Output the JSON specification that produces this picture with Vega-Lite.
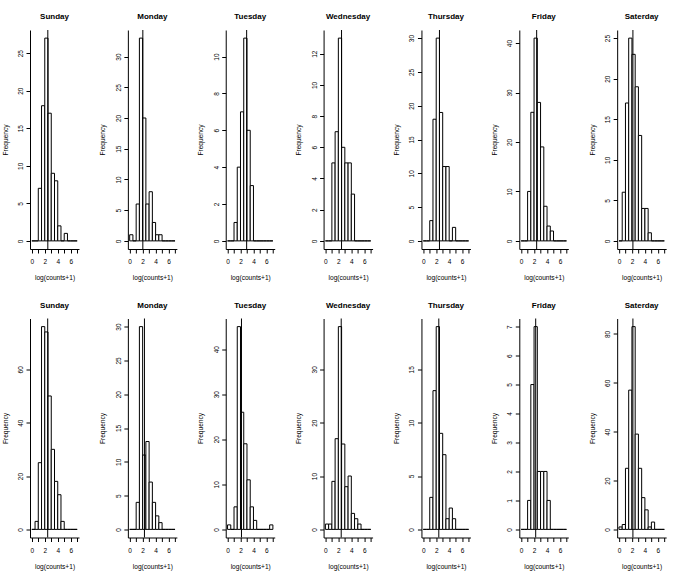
{
"$schema": "https://vega.github.io/schema/vega-lite/v6.json",
"padding": {"left": 2, "top": 13, "right": 5, "bottom": 5},
"bounds": "flush",
"columns": 7,
"spacing": {"row": 69.5, "column": 48.86},
"datasets": {
"h": [
{"p":"T1","s":0,"e":0.5,"n":0},{"p":"T1","s":0.5,"e":1,"n":0},{"p":"T1","s":1,"e":1.5,"n":7},{"p":"T1","s":1.5,"e":2,"n":18},{"p":"T1","s":2,"e":2.5,"n":27},{"p":"T1","s":2.5,"e":3,"n":17},{"p":"T1","s":3,"e":3.5,"n":9},{"p":"T1","s":3.5,"e":4,"n":8},{"p":"T1","s":4,"e":4.5,"n":2},{"p":"T1","s":4.5,"e":5,"n":0},{"p":"T1","s":5,"e":5.5,"n":1},{"p":"T1","s":5.5,"e":6,"n":0},{"p":"T1","s":6,"e":6.5,"n":0},{"p":"T1","s":6.5,"e":7,"n":0},
{"p":"T2","s":0,"e":0.5,"n":1},{"p":"T2","s":0.5,"e":1,"n":0},{"p":"T2","s":1,"e":1.5,"n":6},{"p":"T2","s":1.5,"e":2,"n":33},{"p":"T2","s":2,"e":2.5,"n":20},{"p":"T2","s":2.5,"e":3,"n":6},{"p":"T2","s":3,"e":3.5,"n":8},{"p":"T2","s":3.5,"e":4,"n":3},{"p":"T2","s":4,"e":4.5,"n":1},{"p":"T2","s":4.5,"e":5,"n":1},{"p":"T2","s":5,"e":5.5,"n":0},{"p":"T2","s":5.5,"e":6,"n":0},{"p":"T2","s":6,"e":6.5,"n":0},{"p":"T2","s":6.5,"e":7,"n":0},
{"p":"T3","s":0,"e":0.5,"n":0},{"p":"T3","s":0.5,"e":1,"n":0},{"p":"T3","s":1,"e":1.5,"n":1},{"p":"T3","s":1.5,"e":2,"n":4},{"p":"T3","s":2,"e":2.5,"n":7},{"p":"T3","s":2.5,"e":3,"n":11},{"p":"T3","s":3,"e":3.5,"n":6},{"p":"T3","s":3.5,"e":4,"n":3},{"p":"T3","s":4,"e":4.5,"n":0},{"p":"T3","s":4.5,"e":5,"n":0},{"p":"T3","s":5,"e":5.5,"n":0},{"p":"T3","s":5.5,"e":6,"n":0},{"p":"T3","s":6,"e":6.5,"n":0},{"p":"T3","s":6.5,"e":7,"n":0},
{"p":"T4","s":0,"e":0.5,"n":0},{"p":"T4","s":0.5,"e":1,"n":0},{"p":"T4","s":1,"e":1.5,"n":5},{"p":"T4","s":1.5,"e":2,"n":7},{"p":"T4","s":2,"e":2.5,"n":13},{"p":"T4","s":2.5,"e":3,"n":6},{"p":"T4","s":3,"e":3.5,"n":5},{"p":"T4","s":3.5,"e":4,"n":5},{"p":"T4","s":4,"e":4.5,"n":3},{"p":"T4","s":4.5,"e":5,"n":0},{"p":"T4","s":5,"e":5.5,"n":0},{"p":"T4","s":5.5,"e":6,"n":0},{"p":"T4","s":6,"e":6.5,"n":0},{"p":"T4","s":6.5,"e":7,"n":0},
{"p":"T5","s":0,"e":0.5,"n":0},{"p":"T5","s":0.5,"e":1,"n":0},{"p":"T5","s":1,"e":1.5,"n":3},{"p":"T5","s":1.5,"e":2,"n":18},{"p":"T5","s":2,"e":2.5,"n":30},{"p":"T5","s":2.5,"e":3,"n":19},{"p":"T5","s":3,"e":3.5,"n":11},{"p":"T5","s":3.5,"e":4,"n":11},{"p":"T5","s":4,"e":4.5,"n":0},{"p":"T5","s":4.5,"e":5,"n":2},{"p":"T5","s":5,"e":5.5,"n":0},{"p":"T5","s":5.5,"e":6,"n":0},{"p":"T5","s":6,"e":6.5,"n":0},{"p":"T5","s":6.5,"e":7,"n":0},
{"p":"T6","s":0,"e":0.5,"n":0},{"p":"T6","s":0.5,"e":1,"n":0},{"p":"T6","s":1,"e":1.5,"n":10},{"p":"T6","s":1.5,"e":2,"n":26},{"p":"T6","s":2,"e":2.5,"n":41},{"p":"T6","s":2.5,"e":3,"n":28},{"p":"T6","s":3,"e":3.5,"n":19},{"p":"T6","s":3.5,"e":4,"n":7},{"p":"T6","s":4,"e":4.5,"n":3},{"p":"T6","s":4.5,"e":5,"n":2},{"p":"T6","s":5,"e":5.5,"n":0},{"p":"T6","s":5.5,"e":6,"n":0},{"p":"T6","s":6,"e":6.5,"n":0},{"p":"T6","s":6.5,"e":7,"n":0},
{"p":"T7","s":0,"e":0.5,"n":0},{"p":"T7","s":0.5,"e":1,"n":6},{"p":"T7","s":1,"e":1.5,"n":17},{"p":"T7","s":1.5,"e":2,"n":25},{"p":"T7","s":2,"e":2.5,"n":23},{"p":"T7","s":2.5,"e":3,"n":19},{"p":"T7","s":3,"e":3.5,"n":13},{"p":"T7","s":3.5,"e":4,"n":4},{"p":"T7","s":4,"e":4.5,"n":4},{"p":"T7","s":4.5,"e":5,"n":1},{"p":"T7","s":5,"e":5.5,"n":0},{"p":"T7","s":5.5,"e":6,"n":0},{"p":"T7","s":6,"e":6.5,"n":0},{"p":"T7","s":6.5,"e":7,"n":0},
{"p":"B1","s":0,"e":0.5,"n":0},{"p":"B1","s":0.5,"e":1,"n":3},{"p":"B1","s":1,"e":1.5,"n":25},{"p":"B1","s":1.5,"e":2,"n":76},{"p":"B1","s":2,"e":2.5,"n":74},{"p":"B1","s":2.5,"e":3,"n":50},{"p":"B1","s":3,"e":3.5,"n":30},{"p":"B1","s":3.5,"e":4,"n":18},{"p":"B1","s":4,"e":4.5,"n":13},{"p":"B1","s":4.5,"e":5,"n":3},{"p":"B1","s":5,"e":5.5,"n":0},{"p":"B1","s":5.5,"e":6,"n":0},{"p":"B1","s":6,"e":6.5,"n":0},{"p":"B1","s":6.5,"e":7,"n":0},
{"p":"B2","s":0,"e":0.5,"n":0},{"p":"B2","s":0.5,"e":1,"n":0},{"p":"B2","s":1,"e":1.5,"n":4},{"p":"B2","s":1.5,"e":2,"n":30},{"p":"B2","s":2,"e":2.5,"n":11},{"p":"B2","s":2.5,"e":3,"n":13},{"p":"B2","s":3,"e":3.5,"n":7},{"p":"B2","s":3.5,"e":4,"n":4},{"p":"B2","s":4,"e":4.5,"n":2},{"p":"B2","s":4.5,"e":5,"n":1},{"p":"B2","s":5,"e":5.5,"n":0},{"p":"B2","s":5.5,"e":6,"n":0},{"p":"B2","s":6,"e":6.5,"n":0},{"p":"B2","s":6.5,"e":7,"n":0},
{"p":"B3","s":0,"e":0.5,"n":1},{"p":"B3","s":0.5,"e":1,"n":0},{"p":"B3","s":1,"e":1.5,"n":5},{"p":"B3","s":1.5,"e":2,"n":45},{"p":"B3","s":2,"e":2.5,"n":26},{"p":"B3","s":2.5,"e":3,"n":19},{"p":"B3","s":3,"e":3.5,"n":11},{"p":"B3","s":3.5,"e":4,"n":5},{"p":"B3","s":4,"e":4.5,"n":2},{"p":"B3","s":4.5,"e":5,"n":0},{"p":"B3","s":5,"e":5.5,"n":0},{"p":"B3","s":5.5,"e":6,"n":0},{"p":"B3","s":6,"e":6.5,"n":0},{"p":"B3","s":6.5,"e":7,"n":1},
{"p":"B4","s":0,"e":0.5,"n":1},{"p":"B4","s":0.5,"e":1,"n":1},{"p":"B4","s":1,"e":1.5,"n":9},{"p":"B4","s":1.5,"e":2,"n":17},{"p":"B4","s":2,"e":2.5,"n":38},{"p":"B4","s":2.5,"e":3,"n":16},{"p":"B4","s":3,"e":3.5,"n":8},{"p":"B4","s":3.5,"e":4,"n":10},{"p":"B4","s":4,"e":4.5,"n":3},{"p":"B4","s":4.5,"e":5,"n":2},{"p":"B4","s":5,"e":5.5,"n":1},{"p":"B4","s":5.5,"e":6,"n":0},{"p":"B4","s":6,"e":6.5,"n":0},{"p":"B4","s":6.5,"e":7,"n":0},
{"p":"B5","s":0,"e":0.5,"n":0},{"p":"B5","s":0.5,"e":1,"n":0},{"p":"B5","s":1,"e":1.5,"n":3},{"p":"B5","s":1.5,"e":2,"n":13},{"p":"B5","s":2,"e":2.5,"n":19},{"p":"B5","s":2.5,"e":3,"n":9},{"p":"B5","s":3,"e":3.5,"n":7},{"p":"B5","s":3.5,"e":4,"n":1},{"p":"B5","s":4,"e":4.5,"n":2},{"p":"B5","s":4.5,"e":5,"n":1},{"p":"B5","s":5,"e":5.5,"n":0},{"p":"B5","s":5.5,"e":6,"n":0},{"p":"B5","s":6,"e":6.5,"n":0},{"p":"B5","s":6.5,"e":7,"n":0},
{"p":"B6","s":0,"e":0.5,"n":0},{"p":"B6","s":0.5,"e":1,"n":0},{"p":"B6","s":1,"e":1.5,"n":1},{"p":"B6","s":1.5,"e":2,"n":5},{"p":"B6","s":2,"e":2.5,"n":7},{"p":"B6","s":2.5,"e":3,"n":2},{"p":"B6","s":3,"e":3.5,"n":2},{"p":"B6","s":3.5,"e":4,"n":2},{"p":"B6","s":4,"e":4.5,"n":1},{"p":"B6","s":4.5,"e":5,"n":0},{"p":"B6","s":5,"e":5.5,"n":0},{"p":"B6","s":5.5,"e":6,"n":0},{"p":"B6","s":6,"e":6.5,"n":0},{"p":"B6","s":6.5,"e":7,"n":0},
{"p":"B7","s":0,"e":0.5,"n":1},{"p":"B7","s":0.5,"e":1,"n":2},{"p":"B7","s":1,"e":1.5,"n":25},{"p":"B7","s":1.5,"e":2,"n":57},{"p":"B7","s":2,"e":2.5,"n":83},{"p":"B7","s":2.5,"e":3,"n":39},{"p":"B7","s":3,"e":3.5,"n":25},{"p":"B7","s":3.5,"e":4,"n":13},{"p":"B7","s":4,"e":4.5,"n":8},{"p":"B7","s":4.5,"e":5,"n":1},{"p":"B7","s":5,"e":5.5,"n":3},{"p":"B7","s":5.5,"e":6,"n":0},{"p":"B7","s":6,"e":6.5,"n":0},{"p":"B7","s":6.5,"e":7,"n":0}
],
"m": [
{"p":"T1","m":2.47},{"p":"T2","m":2.03},{"p":"T3","m":2.95},{"p":"T4","m":2.49},{"p":"T5","m":2.5},{"p":"T6","m":2.4},{"p":"T7","m":2.15},
{"p":"B1","m":2.45},{"p":"B2","m":2.28},{"p":"B3","m":2.15},{"p":"B4","m":2.44},{"p":"B5","m":2.4},{"p":"B6","m":2.25},{"p":"B7","m":2.15}
]
},
"concat": [
{"title": "Sunday", "width": 49, "height": 219, "layer": [
 {"data": {"name": "h"}, "transform": [{"filter": "datum.p == 'T1'"}], "mark": {"type": "rect", "fill": "white", "stroke": "black", "strokeWidth": 1},
  "encoding": {"x": {"field": "s", "type": "quantitative", "title": "log(counts+1)", "scale": {"domain": [-0.28, 7.28], "nice": false, "zero": false}, "axis": {"values": [0,1,2,3,4,5,6,7], "tickCount": 20, "format": "d", "labelExpr": "datum.value % 2 == 0 ? datum.label : ''"}}, "x2": {"field": "e"},
   "y": {"field": "n", "type": "quantitative", "title": "Frequency", "scale": {"domain": [-1.08, 28.08], "nice": false, "zero": false}, "axis": {"values": [0,5,10,15,20,25], "tickCount": 20, "format": "d"}}, "y2": {"datum": 0}}},
 {"data": {"name": "m"}, "transform": [{"filter": "datum.p == 'T1'"}], "mark": {"type": "rule", "color": "black", "strokeWidth": 1}, "encoding": {"x": {"field": "m", "type": "quantitative", "title": "log(counts+1)"}}}
]},
{"title": "Monday", "width": 49, "height": 219, "layer": [
 {"data": {"name": "h"}, "transform": [{"filter": "datum.p == 'T2'"}], "mark": {"type": "rect", "fill": "white", "stroke": "black", "strokeWidth": 1},
  "encoding": {"x": {"field": "s", "type": "quantitative", "title": "log(counts+1)", "scale": {"domain": [-0.28, 7.28], "nice": false, "zero": false}, "axis": {"values": [0,1,2,3,4,5,6,7], "tickCount": 20, "format": "d", "labelExpr": "datum.value % 2 == 0 ? datum.label : ''"}}, "x2": {"field": "e"},
   "y": {"field": "n", "type": "quantitative", "title": "Frequency", "scale": {"domain": [-1.32, 34.32], "nice": false, "zero": false}, "axis": {"values": [0,5,10,15,20,25,30], "tickCount": 20, "format": "d"}}, "y2": {"datum": 0}}},
 {"data": {"name": "m"}, "transform": [{"filter": "datum.p == 'T2'"}], "mark": {"type": "rule", "color": "black", "strokeWidth": 1}, "encoding": {"x": {"field": "m", "type": "quantitative", "title": "log(counts+1)"}}}
]},
{"title": "Tuesday", "width": 49, "height": 219, "layer": [
 {"data": {"name": "h"}, "transform": [{"filter": "datum.p == 'T3'"}], "mark": {"type": "rect", "fill": "white", "stroke": "black", "strokeWidth": 1},
  "encoding": {"x": {"field": "s", "type": "quantitative", "title": "log(counts+1)", "scale": {"domain": [-0.28, 7.28], "nice": false, "zero": false}, "axis": {"values": [0,1,2,3,4,5,6,7], "tickCount": 20, "format": "d", "labelExpr": "datum.value % 2 == 0 ? datum.label : ''"}}, "x2": {"field": "e"},
   "y": {"field": "n", "type": "quantitative", "title": "Frequency", "scale": {"domain": [-0.44, 11.44], "nice": false, "zero": false}, "axis": {"values": [0,2,4,6,8,10], "tickCount": 20, "format": "d"}}, "y2": {"datum": 0}}},
 {"data": {"name": "m"}, "transform": [{"filter": "datum.p == 'T3'"}], "mark": {"type": "rule", "color": "black", "strokeWidth": 1}, "encoding": {"x": {"field": "m", "type": "quantitative", "title": "log(counts+1)"}}}
]},
{"title": "Wednesday", "width": 49, "height": 219, "layer": [
 {"data": {"name": "h"}, "transform": [{"filter": "datum.p == 'T4'"}], "mark": {"type": "rect", "fill": "white", "stroke": "black", "strokeWidth": 1},
  "encoding": {"x": {"field": "s", "type": "quantitative", "title": "log(counts+1)", "scale": {"domain": [-0.28, 7.28], "nice": false, "zero": false}, "axis": {"values": [0,1,2,3,4,5,6,7], "tickCount": 20, "format": "d", "labelExpr": "datum.value % 2 == 0 ? datum.label : ''"}}, "x2": {"field": "e"},
   "y": {"field": "n", "type": "quantitative", "title": "Frequency", "scale": {"domain": [-0.52, 13.52], "nice": false, "zero": false}, "axis": {"values": [0,2,4,6,8,10,12], "tickCount": 20, "format": "d"}}, "y2": {"datum": 0}}},
 {"data": {"name": "m"}, "transform": [{"filter": "datum.p == 'T4'"}], "mark": {"type": "rule", "color": "black", "strokeWidth": 1}, "encoding": {"x": {"field": "m", "type": "quantitative", "title": "log(counts+1)"}}}
]},
{"title": "Thursday", "width": 49, "height": 219, "layer": [
 {"data": {"name": "h"}, "transform": [{"filter": "datum.p == 'T5'"}], "mark": {"type": "rect", "fill": "white", "stroke": "black", "strokeWidth": 1},
  "encoding": {"x": {"field": "s", "type": "quantitative", "title": "log(counts+1)", "scale": {"domain": [-0.28, 7.28], "nice": false, "zero": false}, "axis": {"values": [0,1,2,3,4,5,6,7], "tickCount": 20, "format": "d", "labelExpr": "datum.value % 2 == 0 ? datum.label : ''"}}, "x2": {"field": "e"},
   "y": {"field": "n", "type": "quantitative", "title": "Frequency", "scale": {"domain": [-1.2, 31.2], "nice": false, "zero": false}, "axis": {"values": [0,5,10,15,20,25,30], "tickCount": 20, "format": "d"}}, "y2": {"datum": 0}}},
 {"data": {"name": "m"}, "transform": [{"filter": "datum.p == 'T5'"}], "mark": {"type": "rule", "color": "black", "strokeWidth": 1}, "encoding": {"x": {"field": "m", "type": "quantitative", "title": "log(counts+1)"}}}
]},
{"title": "Friday", "width": 49, "height": 219, "layer": [
 {"data": {"name": "h"}, "transform": [{"filter": "datum.p == 'T6'"}], "mark": {"type": "rect", "fill": "white", "stroke": "black", "strokeWidth": 1},
  "encoding": {"x": {"field": "s", "type": "quantitative", "title": "log(counts+1)", "scale": {"domain": [-0.28, 7.28], "nice": false, "zero": false}, "axis": {"values": [0,1,2,3,4,5,6,7], "tickCount": 20, "format": "d", "labelExpr": "datum.value % 2 == 0 ? datum.label : ''"}}, "x2": {"field": "e"},
   "y": {"field": "n", "type": "quantitative", "title": "Frequency", "scale": {"domain": [-1.64, 42.64], "nice": false, "zero": false}, "axis": {"values": [0,10,20,30,40], "tickCount": 20, "format": "d"}}, "y2": {"datum": 0}}},
 {"data": {"name": "m"}, "transform": [{"filter": "datum.p == 'T6'"}], "mark": {"type": "rule", "color": "black", "strokeWidth": 1}, "encoding": {"x": {"field": "m", "type": "quantitative", "title": "log(counts+1)"}}}
]},
{"title": "Saterday", "width": 49, "height": 219, "layer": [
 {"data": {"name": "h"}, "transform": [{"filter": "datum.p == 'T7'"}], "mark": {"type": "rect", "fill": "white", "stroke": "black", "strokeWidth": 1},
  "encoding": {"x": {"field": "s", "type": "quantitative", "title": "log(counts+1)", "scale": {"domain": [-0.28, 7.28], "nice": false, "zero": false}, "axis": {"values": [0,1,2,3,4,5,6,7], "tickCount": 20, "format": "d", "labelExpr": "datum.value % 2 == 0 ? datum.label : ''"}}, "x2": {"field": "e"},
   "y": {"field": "n", "type": "quantitative", "title": "Frequency", "scale": {"domain": [-1, 26], "nice": false, "zero": false}, "axis": {"values": [0,5,10,15,20,25], "tickCount": 20, "format": "d"}}, "y2": {"datum": 0}}},
 {"data": {"name": "m"}, "transform": [{"filter": "datum.p == 'T7'"}], "mark": {"type": "rule", "color": "black", "strokeWidth": 1}, "encoding": {"x": {"field": "m", "type": "quantitative", "title": "log(counts+1)"}}}
]},
{"title": "Sunday", "width": 49, "height": 219, "layer": [
 {"data": {"name": "h"}, "transform": [{"filter": "datum.p == 'B1'"}], "mark": {"type": "rect", "fill": "white", "stroke": "black", "strokeWidth": 1},
  "encoding": {"x": {"field": "s", "type": "quantitative", "title": "log(counts+1)", "scale": {"domain": [-0.28, 7.28], "nice": false, "zero": false}, "axis": {"values": [0,1,2,3,4,5,6,7], "tickCount": 20, "format": "d", "labelExpr": "datum.value % 2 == 0 ? datum.label : ''"}}, "x2": {"field": "e"},
   "y": {"field": "n", "type": "quantitative", "title": "Frequency", "scale": {"domain": [-3.04, 79.04], "nice": false, "zero": false}, "axis": {"values": [0,20,40,60], "tickCount": 20, "format": "d"}}, "y2": {"datum": 0}}},
 {"data": {"name": "m"}, "transform": [{"filter": "datum.p == 'B1'"}], "mark": {"type": "rule", "color": "black", "strokeWidth": 1}, "encoding": {"x": {"field": "m", "type": "quantitative", "title": "log(counts+1)"}}}
]},
{"title": "Monday", "width": 49, "height": 219, "layer": [
 {"data": {"name": "h"}, "transform": [{"filter": "datum.p == 'B2'"}], "mark": {"type": "rect", "fill": "white", "stroke": "black", "strokeWidth": 1},
  "encoding": {"x": {"field": "s", "type": "quantitative", "title": "log(counts+1)", "scale": {"domain": [-0.28, 7.28], "nice": false, "zero": false}, "axis": {"values": [0,1,2,3,4,5,6,7], "tickCount": 20, "format": "d", "labelExpr": "datum.value % 2 == 0 ? datum.label : ''"}}, "x2": {"field": "e"},
   "y": {"field": "n", "type": "quantitative", "title": "Frequency", "scale": {"domain": [-1.2, 31.2], "nice": false, "zero": false}, "axis": {"values": [0,5,10,15,20,25,30], "tickCount": 20, "format": "d"}}, "y2": {"datum": 0}}},
 {"data": {"name": "m"}, "transform": [{"filter": "datum.p == 'B2'"}], "mark": {"type": "rule", "color": "black", "strokeWidth": 1}, "encoding": {"x": {"field": "m", "type": "quantitative", "title": "log(counts+1)"}}}
]},
{"title": "Tuesday", "width": 49, "height": 219, "layer": [
 {"data": {"name": "h"}, "transform": [{"filter": "datum.p == 'B3'"}], "mark": {"type": "rect", "fill": "white", "stroke": "black", "strokeWidth": 1},
  "encoding": {"x": {"field": "s", "type": "quantitative", "title": "log(counts+1)", "scale": {"domain": [-0.28, 7.28], "nice": false, "zero": false}, "axis": {"values": [0,1,2,3,4,5,6,7], "tickCount": 20, "format": "d", "labelExpr": "datum.value % 2 == 0 ? datum.label : ''"}}, "x2": {"field": "e"},
   "y": {"field": "n", "type": "quantitative", "title": "Frequency", "scale": {"domain": [-1.8, 46.8], "nice": false, "zero": false}, "axis": {"values": [0,10,20,30,40], "tickCount": 20, "format": "d"}}, "y2": {"datum": 0}}},
 {"data": {"name": "m"}, "transform": [{"filter": "datum.p == 'B3'"}], "mark": {"type": "rule", "color": "black", "strokeWidth": 1}, "encoding": {"x": {"field": "m", "type": "quantitative", "title": "log(counts+1)"}}}
]},
{"title": "Wednesday", "width": 49, "height": 219, "layer": [
 {"data": {"name": "h"}, "transform": [{"filter": "datum.p == 'B4'"}], "mark": {"type": "rect", "fill": "white", "stroke": "black", "strokeWidth": 1},
  "encoding": {"x": {"field": "s", "type": "quantitative", "title": "log(counts+1)", "scale": {"domain": [-0.28, 7.28], "nice": false, "zero": false}, "axis": {"values": [0,1,2,3,4,5,6,7], "tickCount": 20, "format": "d", "labelExpr": "datum.value % 2 == 0 ? datum.label : ''"}}, "x2": {"field": "e"},
   "y": {"field": "n", "type": "quantitative", "title": "Frequency", "scale": {"domain": [-1.52, 39.52], "nice": false, "zero": false}, "axis": {"values": [0,10,20,30], "tickCount": 20, "format": "d"}}, "y2": {"datum": 0}}},
 {"data": {"name": "m"}, "transform": [{"filter": "datum.p == 'B4'"}], "mark": {"type": "rule", "color": "black", "strokeWidth": 1}, "encoding": {"x": {"field": "m", "type": "quantitative", "title": "log(counts+1)"}}}
]},
{"title": "Thursday", "width": 49, "height": 219, "layer": [
 {"data": {"name": "h"}, "transform": [{"filter": "datum.p == 'B5'"}], "mark": {"type": "rect", "fill": "white", "stroke": "black", "strokeWidth": 1},
  "encoding": {"x": {"field": "s", "type": "quantitative", "title": "log(counts+1)", "scale": {"domain": [-0.28, 7.28], "nice": false, "zero": false}, "axis": {"values": [0,1,2,3,4,5,6,7], "tickCount": 20, "format": "d", "labelExpr": "datum.value % 2 == 0 ? datum.label : ''"}}, "x2": {"field": "e"},
   "y": {"field": "n", "type": "quantitative", "title": "Frequency", "scale": {"domain": [-0.76, 19.76], "nice": false, "zero": false}, "axis": {"values": [0,5,10,15], "tickCount": 20, "format": "d"}}, "y2": {"datum": 0}}},
 {"data": {"name": "m"}, "transform": [{"filter": "datum.p == 'B5'"}], "mark": {"type": "rule", "color": "black", "strokeWidth": 1}, "encoding": {"x": {"field": "m", "type": "quantitative", "title": "log(counts+1)"}}}
]},
{"title": "Friday", "width": 49, "height": 219, "layer": [
 {"data": {"name": "h"}, "transform": [{"filter": "datum.p == 'B6'"}], "mark": {"type": "rect", "fill": "white", "stroke": "black", "strokeWidth": 1},
  "encoding": {"x": {"field": "s", "type": "quantitative", "title": "log(counts+1)", "scale": {"domain": [-0.28, 7.28], "nice": false, "zero": false}, "axis": {"values": [0,1,2,3,4,5,6,7], "tickCount": 20, "format": "d", "labelExpr": "datum.value % 2 == 0 ? datum.label : ''"}}, "x2": {"field": "e"},
   "y": {"field": "n", "type": "quantitative", "title": "Frequency", "scale": {"domain": [-0.28, 7.28], "nice": false, "zero": false}, "axis": {"values": [0,1,2,3,4,5,6,7], "tickCount": 20, "format": "d"}}, "y2": {"datum": 0}}},
 {"data": {"name": "m"}, "transform": [{"filter": "datum.p == 'B6'"}], "mark": {"type": "rule", "color": "black", "strokeWidth": 1}, "encoding": {"x": {"field": "m", "type": "quantitative", "title": "log(counts+1)"}}}
]},
{"title": "Saterday", "width": 49, "height": 219, "layer": [
 {"data": {"name": "h"}, "transform": [{"filter": "datum.p == 'B7'"}], "mark": {"type": "rect", "fill": "white", "stroke": "black", "strokeWidth": 1},
  "encoding": {"x": {"field": "s", "type": "quantitative", "title": "log(counts+1)", "scale": {"domain": [-0.28, 7.28], "nice": false, "zero": false}, "axis": {"values": [0,1,2,3,4,5,6,7], "tickCount": 20, "format": "d", "labelExpr": "datum.value % 2 == 0 ? datum.label : ''"}}, "x2": {"field": "e"},
   "y": {"field": "n", "type": "quantitative", "title": "Frequency", "scale": {"domain": [-3.32, 86.32], "nice": false, "zero": false}, "axis": {"values": [0,20,40,60,80], "tickCount": 20, "format": "d"}}, "y2": {"datum": 0}}},
 {"data": {"name": "m"}, "transform": [{"filter": "datum.p == 'B7'"}], "mark": {"type": "rule", "color": "black", "strokeWidth": 1}, "encoding": {"x": {"field": "m", "type": "quantitative", "title": "log(counts+1)"}}}
]}
],
"config": {
 "font": "Liberation Sans",
 "background": "white",
 "view": {"stroke": null},
 "title": {"fontSize": 8, "fontWeight": "bold", "font": "Liberation Sans", "color": "#000", "offset": 8.5, "baseline": "bottom"},
 "axis": {"grid": false, "domainColor": "#000", "tickColor": "#000", "labelColor": "#000", "titleColor": "#000", "labelFont": "Liberation Sans", "titleFont": "Liberation Sans", "labelFontSize": 6.5, "titleFontSize": 6.6, "titleFontWeight": "normal", "tickSize": 4, "domainWidth": 1, "tickWidth": 1, "labelOverlap": false, "labelFlush": false},
 "axisX": {"labelPadding": 5.5, "titlePadding": 9.5},
 "axisY": {"labelAngle": 270, "labelAlign": "center", "labelBaseline": "bottom", "labelPadding": 2.5, "titlePadding": 9.5}
}
}
